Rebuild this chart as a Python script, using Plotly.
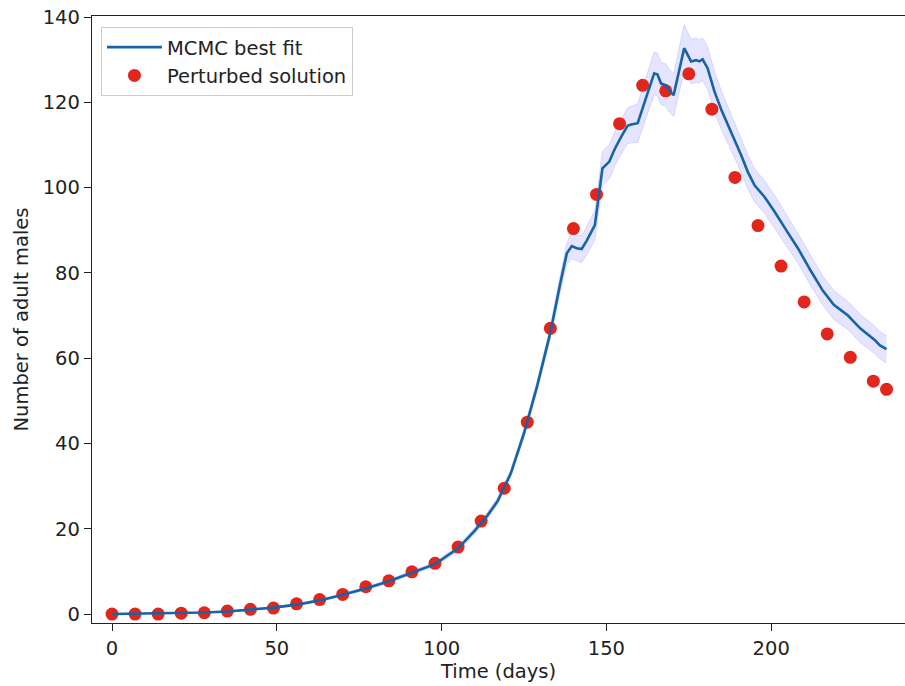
import plotly.graph_objects as go

# Perturbed solution (observations)
obs_days = [0, 7, 14, 21, 28, 35, 42, 49, 56, 63, 70, 77, 84, 91, 98, 105, 112, 119,
            126, 133, 140, 147, 154, 161, 168, 175, 182, 189, 196, 203, 210, 217,
            224, 231, 235]
obs_males = [0.0, 0.0, 0.0, 0.2, 0.3, 0.7, 1.1, 1.4, 2.4, 3.4, 4.6, 6.4, 7.8, 9.9,
             11.9, 15.7, 21.8, 29.5, 45.0, 67.0, 90.4, 98.4, 115.0, 124.0, 122.7,
             126.7, 118.4, 102.4, 91.1, 81.6, 73.2, 65.7, 60.2, 54.6, 52.7]

# MCMC best fit curve
fit_days = [0, 7, 14, 21, 28, 35, 42, 49, 56, 63, 70, 77, 84, 91, 98, 105, 110, 114,
            117, 121, 125, 129, 133, 136, 138, 139.5, 141, 142.5, 144, 146.5, 147.5,
            148.8, 150.9, 152.5, 154.4, 156.4, 157.5, 159.5, 162, 164.5, 165.5, 166.6,
            168.1, 169, 170.4, 173.6, 175.7, 177.2, 178.2, 179.2, 180.7, 182.8, 185,
            187.8, 190.9, 192.9, 195, 198, 201, 205, 208.1, 212, 215.7, 219, 223.3,
            227, 231.4, 233, 235]
fit_males = [0.0, 0.05, 0.1, 0.2, 0.35, 0.6, 1.0, 1.5, 2.2, 3.2, 4.5, 6.0, 7.7, 9.7,
             11.7, 15.4, 19.5, 23.2, 26.5, 33.0, 42.4, 53.5, 66.0, 77.5, 84.6, 86.3,
             85.8, 85.6, 87.5, 91.2, 97.0, 104.5, 106.1, 109.0, 111.8, 114.5, 114.8,
             115.1, 121.0, 126.8, 126.5, 124.4, 124.0, 122.8, 121.7, 132.7, 129.6,
             129.9, 129.6, 130.1, 128.0, 122.5, 118.0, 113.1, 107.6, 103.7, 100.5,
             97.8, 94.4, 89.5, 85.8, 80.5, 75.8, 72.5, 70.0, 67.0, 64.3, 63.0, 62.1]
# half-width of the uncertainty band around the fit
fit_spread = [0.1, 0.1, 0.1, 0.1, 0.1, 0.15, 0.2, 0.2, 0.25, 0.3, 0.3, 0.35, 0.4,
              0.4, 0.5, 0.6, 0.7, 0.8, 0.8, 0.9, 1.0, 1.2, 1.5, 2.0, 2.5, 3.0, 3.0,
              3.2, 3.3, 3.5, 3.6, 4.0, 4.0, 4.0, 4.0, 4.2, 4.3, 4.5, 4.8, 5.0, 5.0,
              5.0, 5.0, 5.0, 5.0, 5.5, 5.2, 5.2, 5.0, 5.0, 5.0, 4.8, 4.5, 4.3, 4.0,
              4.0, 3.9, 3.8, 3.8, 3.7, 3.5, 3.5, 3.4, 3.4, 3.3, 3.3, 3.2, 3.2, 3.2]

x_ticks = [0, 50, 100, 150, 200]
y_ticks = [0, 20, 40, 60, 80, 100, 120, 140]

lower = [m - s for m, s in zip(fit_males, fit_spread)]
upper = [m + s for m, s in zip(fit_males, fit_spread)]

FONT = "DejaVu Sans"
FS = 19.5
fig = go.Figure()
fig.add_trace(go.Scatter(x=fit_days, y=lower, mode="lines",
                         line=dict(color="rgba(0,0,255,0.12)", width=1),
                         showlegend=False, hoverinfo="skip"))
fig.add_trace(go.Scatter(x=fit_days, y=upper, mode="lines", fill="tonexty",
                         fillcolor="rgba(0,0,255,0.10)",
                         line=dict(color="rgba(0,0,255,0.12)", width=1),
                         showlegend=False, hoverinfo="skip"))
fig.add_trace(go.Scatter(x=obs_days, y=obs_males, mode="markers", name="Perturbed solution",
                         marker=dict(color="#e3261b", size=13, line=dict(width=0))))
fig.add_trace(go.Scatter(x=fit_days, y=fit_males, mode="lines", name="MCMC best fit",
                         line=dict(color="#1663a6", width=2.6)))

axis_common = dict(showline=True, linecolor="#222", linewidth=1.3, ticks="outside",
                   ticklen=7, tickwidth=1.3, tickcolor="#222", showgrid=False,
                   zeroline=False, tickfont=dict(family=FONT, size=FS, color="#222"))

fig.update_layout(
    width=905, height=686,
    margin=dict(l=92, r=0, t=16, b=63),
    paper_bgcolor="white", plot_bgcolor="white",
    font=dict(family=FONT, size=FS, color="#222"),
    xaxis=dict(range=[-6.07, 240.6], tickvals=x_ticks, mirror=True,
               title=dict(text="Time (days)", font=dict(family=FONT, size=FS), standoff=4),
               **axis_common),
    yaxis=dict(range=[-2.1, 140.25], tickvals=y_ticks,
               title=dict(text="Number of adult males", font=dict(family=FONT, size=FS), standoff=8),
               **axis_common),
    legend=dict(x=0.011, y=0.982, xanchor="left", yanchor="top", traceorder="reversed",
                bgcolor="rgba(255,255,255,0.85)", bordercolor="#ccc", borderwidth=1,
                itemwidth=55,
                font=dict(family=FONT, size=FS, color="#222"), tracegroupgap=0),
)

fig.write_html("out.html", config={"displayModeBar": False},
               post_script="document.body.style.margin='0';")
